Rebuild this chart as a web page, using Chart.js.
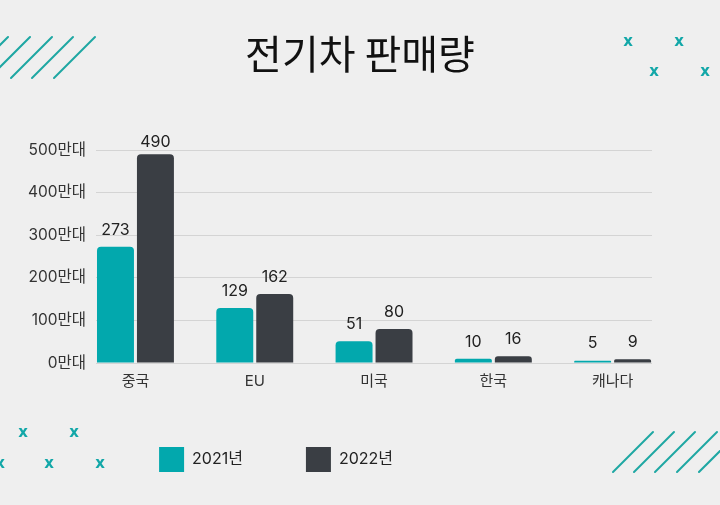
<!DOCTYPE html>
<html lang="ko">
<head>
<meta charset="utf-8">
<script src="https://cdn.jsdelivr.net/npm/chart.js@4"></script>
<style>
    html, body { margin: 0; padding: 0; background: #efefef; }
    #wrap { width: 720px; height: 505px; }
</style>
</head>
<body>
<div id="wrap"><canvas id="chart" width="720" height="505"></canvas></div>
<script>
const titleText = '전기차 판매량';
const categories = ['중국', 'EU', '미국', '한국', '캐나다'];
const seriesNames = ['2021년', '2022년'];
const sales2021 = [273, 129, 51, 10, 5];
const sales2022 = [490, 162, 80, 16, 9];
const yTicks = [0, 100, 200, 300, 400, 500];

const TEAL = '#02a8ad';
const DARK = '#3a3e44';
const FONT = "Inter, 'Noto Sans CJK KR', sans-serif";

// background + decorative stripes and x marks
const decoPlugin = {
    id: 'deco',
    afterLayout(chart) {
        // title centred on the whole canvas
        chart.titleBlock.left = 0;
        chart.titleBlock.right = chart.width;
        // let the category labels run a little below the axis box
        chart.scales.x.bottom += 12;
    },
    beforeDraw(chart) {
        const ctx = chart.ctx;
        ctx.save();
        ctx.fillStyle = '#efefef';
        ctx.fillRect(0, 0, chart.width, chart.height);
        ctx.strokeStyle = '#1ea7a3';
        ctx.lineWidth = 2;
        ctx.lineCap = 'round';
        [8, 30, 52, 73, 95].forEach(x => {
            ctx.beginPath();
            ctx.moveTo(x, 37);
            ctx.lineTo(x - 41, 78);
            ctx.stroke();
        });
        [653, 674, 695, 717, 739].forEach(x => {
            ctx.beginPath();
            ctx.moveTo(x, 432);
            ctx.lineTo(x - 40, 472);
            ctx.stroke();
        });
        ctx.fillStyle = '#12a7a8';
        ctx.font = "bold 15px 'DejaVu Sans', sans-serif";
        ctx.textAlign = 'center';
        ctx.textBaseline = 'middle';
        [[628, 43], [679, 43], [654, 73], [705, 73],
         [23, 434], [74, 434], [0, 465], [49, 465], [100, 465]].forEach(([x, y]) => {
            ctx.fillText('x', x, y - 1);
        });
        ctx.restore();
    }
};

// value labels above bars
const valueLabels = {
    id: 'valueLabels',
    afterDatasetsDraw(chart) {
        const ctx = chart.ctx;
        const yScale = chart.scales.y;
        ctx.save();
        ctx.font = '16px ' + FONT;
        ctx.fillStyle = '#222';
        ctx.textAlign = 'center';
        ctx.textBaseline = 'middle';
        chart.data.datasets.forEach((ds, di) => {
            chart.getDatasetMeta(di).data.forEach((bar, i) => {
                let y = bar.y - 17;
                y = Math.min(y, yScale.getPixelForValue(0) - 20);
                y = Math.max(y, chart.chartArea.top - 8);
                ctx.fillText(String(ds.data[i].y), bar.x, y);
            });
        });
        ctx.restore();
    }
};

const ctx = document.getElementById('chart');
new Chart(ctx, {
    type: 'bar',
    data: {
        datasets: [
            {
                label: seriesNames[0],
                data: sales2021.map((v, i) => ({ x: i, y: v })),
                backgroundColor: TEAL,
                borderRadius: 4,
                borderSkipped: 'start'
            },
            {
                label: seriesNames[1],
                data: sales2022.map((v, i) => ({ x: i, y: v })),
                backgroundColor: DARK,
                borderRadius: 4,
                borderSkipped: 'start'
            }
        ]
    },
    options: {
        responsive: false,
        animation: false,
        categoryPercentage: 0.67,
        barPercentage: 0.925,
        layout: { padding: { left: 18, right: 68, top: 0, bottom: 23 } },
        scales: {
            x: {
                type: 'linear',
                offset: false,
                min: -0.33,
                max: 4.33,
                afterBuildTicks: scale => {
                    scale.ticks = categories.map((c, i) => ({ value: i }));
                },
                afterFit: scale => { scale.height = 21; },
                grid: { display: false, drawTicks: false, offset: false },
                border: { display: false },
                ticks: {
                    padding: 9,
                    color: '#333',
                    font: { family: FONT, size: 15 },
                    callback: v => categories[v]
                }
            },
            y: {
                min: 0,
                max: 500,
                afterBuildTicks: scale => {
                    scale.ticks = yTicks.map(v => ({ value: v }));
                },
                grid: { color: '#d4d4d4', drawTicks: false, lineWidth: 1 },
                border: { display: false },
                ticks: {
                    padding: 10,
                    color: '#333',
                    font: { family: FONT, size: 15.5 },
                    callback: v => v + '만대'
                }
            }
        },
        plugins: {
            title: {
                display: true,
                text: titleText,
                color: '#111',
                font: { family: "'Noto Sans CJK KR', sans-serif", size: 40, weight: 'normal' },
                padding: { top: 30, bottom: 72 }
            },
            legend: {
                position: 'bottom',
                align: 'start',
                fullSize: false,
                labels: {
                    boxWidth: 25,
                    boxHeight: 25,
                    padding: 63,
                    color: '#222',
                    font: { family: FONT, size: 16 }
                }
            },
            tooltip: { enabled: false }
        }
    },
    plugins: [decoPlugin, valueLabels]
});
</script>
</body>
</html>
